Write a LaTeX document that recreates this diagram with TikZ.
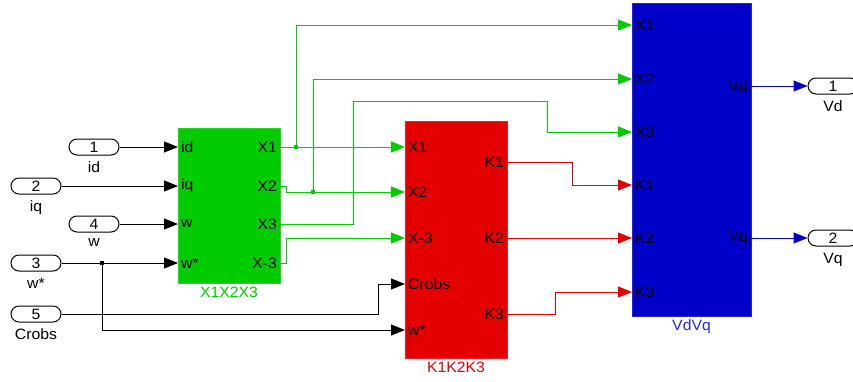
\documentclass[tikz,border=0pt]{standalone}
\usepackage{fontspec}
\setmainfont[FakeStretch=1.05]{Liberation Sans}
\usetikzlibrary{arrows.meta,positioning}
\definecolor{simgreen}{RGB}{0,204,0}
\definecolor{simred}{RGB}{228,0,0}
\definecolor{simblue}{RGB}{0,0,200}
\definecolor{simlblue}{RGB}{40,40,215}
\begin{document}
\begin{tikzpicture}[x=1pt, y=-1pt, font=\fontsize{15}{17}\selectfont,
  blk/.style={fill=#1, draw=#1!85!white, inner sep=0pt},
  pinl/.style={inner xsep=3pt, inner ysep=0pt},
  port/.style={draw, line width=1pt, rounded corners=8pt, minimum width=50pt,
    minimum height=16pt, inner sep=0pt},
  link/.style={line width=1pt, -{Triangle[length=14pt,width=11pt]}},
  dot/.style={fill=#1, minimum size=4pt, inner sep=0pt},
  ]
  \useasboundingbox (0,0) rectangle (853,381);

  %%% blocks %%%
  \node[blk=simgreen, minimum width=102pt, minimum height=155pt] (xblk) at (229,205.5) {};
  \node[blk=simred,   minimum width=102pt, minimum height=237pt] (kblk) at (456,239.5) {};
  \node[blk=simblue,  minimum width=119pt, minimum height=313pt] (vblk) at (691.5,159.5) {};
  \node[below=0pt of xblk, text=simgreen] {X1X2X3};
  \node[below=0pt of kblk, text=simred] {K1K2K3};
  \node[below=0pt of vblk, text=simlblue] {VdVq};

  %%% block pin labels %%%
  \foreach \nm/\yy/\tx in {id/147/id, iq/186/iq, w/224/w, ws/263/w*}
    \node[pinl, anchor=west] (x-\nm) at (178,\yy) {\tx};
  \foreach \nm/\yy/\tx in {x1/147/X1, x2/186/X2, x3/224/X3, x4/263/X-3}
    \node[pinl, anchor=east] (xo-\nm) at (280,\yy) {\tx};
  \foreach \nm/\yy/\tx in {x1/147/X1, x2/192/X2, x3/238/X-3, crobs/284/Crobs, ws/330/w*}
    \node[pinl, anchor=west] (k-\nm) at (405,\yy) {\tx};
  \foreach \nm/\yy/\tx in {k1/162/K1, k2/238/K2, k3/314/K3}
    \node[pinl, anchor=east] (ko-\nm) at (507,\yy) {\tx};
  \foreach \nm/\yy/\tx in {x1/25/X1, x2/79/X2, x3/132/X3, k1/185/K1, k2/238/K2, k3/292/K3}
    \node[pinl, anchor=west] (v-\nm) at (632,\yy) {\tx};
  \foreach \nm/\yy/\tx in {vd/86/Vd, vq/238/Vq}
    \node[pinl, anchor=east] (vo-\nm) at (751,\yy) {\tx};

  %%% inports %%%
  \node[port] (p1) at (94,147) {1};
  \node[port] (p2) at (36,186) {2};
  \node[port] (p4) at (94,224) {4};
  \node[port] (p3) at (36,263) {3};
  \node[port] (p5) at (36,314) {5};
  \node[below=3pt of p1] {id};
  \node[below=3pt of p2] {iq};
  \node[below=3pt of p4] {w};
  \node[below=3pt of p3] {w*};
  \node[below=3pt of p5] {Crobs};

  %%% outports %%%
  \node[port] (o1) at (833,86) {1};
  \node[port] (o2) at (833,238) {2};
  \node[below=3pt of o1] {Vd};
  \node[below=3pt of o2] {Vq};

  %%% black signal lines %%%
  \draw[link] (p1) -- (x-id.west);
  \draw[link] (p2) -- (x-iq.west);
  \draw[link] (p4) -- (x-w.west);
  \draw[link] (p3) -- (x-ws.west);
  \node[dot=black] (b3) at (102,263) {};
  \draw[link] (b3.center) |- (k-ws.west);
  \draw[link] (p5.east) -- ++(317,0) |- (k-crobs.west);

  %%% green signal lines %%%
  \begin{scope}[simgreen]
    \draw[link] (xo-x1.east) -- (k-x1.west);
    \node[dot=simgreen] (bx1) at (296,147) {};
    \draw[link] (bx1.center) |- (v-x1.west);
    \draw[link] (xo-x2.east) -- ++(6,0) |- (k-x2.west);
    \node[dot=simgreen] (bx2) at (313,192) {};
    \draw[link] (bx2.center) |- (v-x2.west);
    \draw[link] (xo-x3.east) -- (353,224) |- (547,101) |- (v-x3.west);
    \draw[link] (xo-x4.east) -- ++(6,0) |- (k-x3.west);
  \end{scope}

  %%% red signal lines %%%
  \begin{scope}[simred]
    \draw[link] (ko-k1.east) -- ++(65,0) |- (v-k1.west);
    \draw[link] (ko-k2.east) -- (v-k2.west);
    \draw[link] (ko-k3.east) -- ++(48,0) |- (v-k3.west);
  \end{scope}

  %%% blue signal lines %%%
  \draw[link, simblue] (vo-vd.east) -- (o1);
  \draw[link, simblue] (vo-vq.east) -- (o2);
\end{tikzpicture}
\end{document}
